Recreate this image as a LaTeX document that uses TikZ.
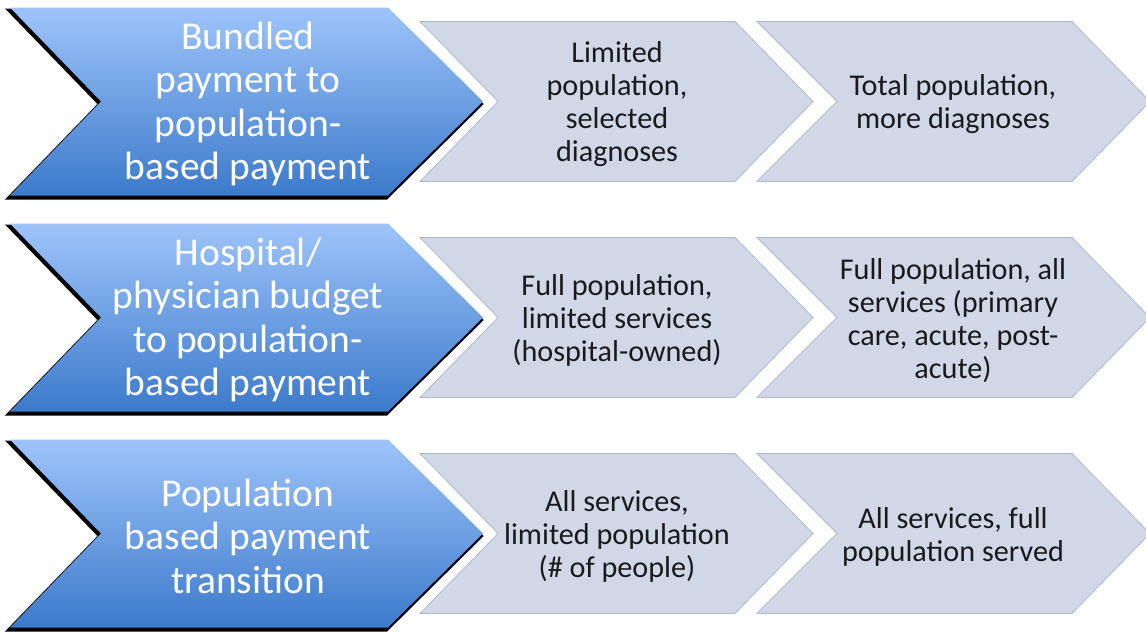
\documentclass[tikz,border=0pt]{standalone}
\usepackage{fontspec}
\setmainfont{Carlito}
\definecolor{bluetop}{RGB}{158,196,250}
\definecolor{bluebottom}{RGB}{60,122,203}
\definecolor{chevgray}{RGB}{208,215,230}
\definecolor{chevedge}{RGB}{178,185,200}
\definecolor{textdark}{RGB}{26,26,30}
% chevron outline: left x, notch depth, right corner x, tip depth, centre y, half height
\newcommand\chevpath[6]{(#1,{#5-#6}) -- (#3,{#5-#6}) -- ({#3+#4},#5) -- (#3,{#5+#6}) -- (#1,{#5+#6}) -- ({#1+#2},#5) -- cycle}
\begin{document}
\begin{tikzpicture}[x=1pt,y=-1pt,
  bluetext/.style={text=white, font=\fontsize{39.5}{43.5}\selectfont, align=center, inner sep=0pt},
  graytext/.style={text=textdark, font=\fontsize{30.2}{33}\selectfont, align=center, inner sep=0pt},
  grayshape/.style={fill=chevgray, draw=chevedge, line width=0.8pt},
  blueshadow/.style={fill=black, draw=black, line width=3pt, line join=miter, shift={(-1.5,2.5)}},
  blueshape/.style={top color=bluetop, bottom color=bluebottom, draw=none}]
\useasboundingbox (0,0) rectangle (1146,632);
\clip (0,0) rectangle (1146,632);

% three rows, 216 px apart
\foreach \r/\c in {0/101.5, 1/317.5, 2/533.5}{
  % light steps
  \path[grayshape] \chevpath{420}{78}{735}{78}{\c}{80};
  \path[grayshape] \chevpath{757}{80}{1072}{78}{\c}{80};
  % blue lead chevron with its dark shadow
  \path[blueshadow] \chevpath{10}{91}{388}{95}{\c}{94};
  \path[blueshape] \chevpath{10}{91}{388}{95}{\c}{94};
}

% row 1
\node[bluetext] (b1) at (248,104) {Bundled\\payment to\\population-\\based payment};
\node[graytext] (g11) at (617,104.5) {Limited\\population,\\selected\\diagnoses};
\node[graytext] (g12) at (953,104.5) {Total population,\\more diagnoses};

% row 2
\node[bluetext] (b2) at (248,320) {Hospital/\\physician budget\\to population-\\based payment};
\node[graytext] (g21) at (617,320.5) {Full population,\\limited services\\(hospital-owned)};
\node[graytext] (g22) at (953,320.5) {Full population, all\\services (primary\\care, acute, post-\\acute)};

% row 3
\node[bluetext] (b3) at (248,536) {Population\\based payment\\transition};
\node[graytext] (g31) at (617,536.5) {All services,\\limited population\\(\# of people)};
\node[graytext] (g32) at (953,536.5) {All services, full\\population served};
\end{tikzpicture}
\end{document}
